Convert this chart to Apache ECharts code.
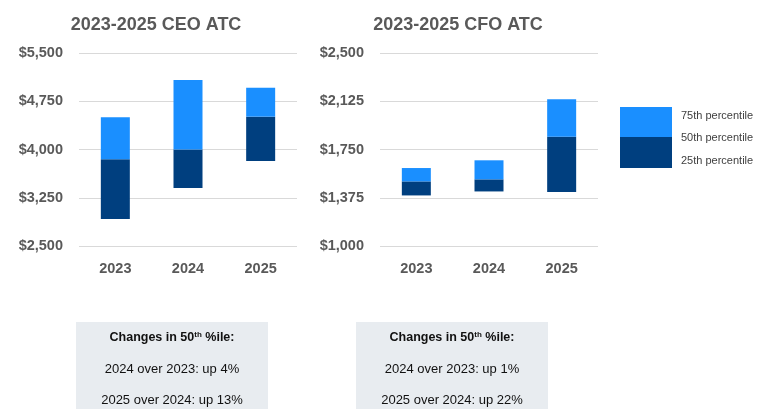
<!DOCTYPE html>
<html>
<head>
<meta charset="utf-8">
<script src="https://cdn.jsdelivr.net/npm/echarts@6/dist/echarts.min.js"></script>
<style>html,body{margin:0;padding:0;background:#fff}#c{width:779px;height:419px}</style>
</head>
<body>
<div id="c"></div>
<script>
var years = ['2023', '2024', '2025'];
var ceoP25 = [2920, 3400, 3820];
var ceoP50 = [3850, 4000, 4510];
var ceoP75 = [4500, 5080, 4960];
var cfoP25 = [1393, 1424, 1419];
var cfoP50 = [1502, 1518, 1850];
var cfoP75 = [1606, 1666, 2141];
var ceoTicks = [2500, 3250, 4000, 4750, 5500];
var cfoTicks = [1000, 1375, 1750, 2125, 2500];
var legendLabels = ['75th percentile', '50th percentile', '25th percentile'];
var ceoNotes = ['2024 over 2023: up 4%', '2025 over 2024: up 13%'];
var cfoNotes = ['2024 over 2023: up 1%', '2025 over 2024: up 22%'];

var LIGHT = '#1a8fff', DARK = '#003f7f', GRAY = '#595959';
function diff(a, b) { return a.map(function (v, i) { return v - b[i]; }); }
function money(v) { return '$' + v.toLocaleString('en-US'); }

function yAxis(idx, ticks) {
  return {
    type: 'value', gridIndex: idx, min: ticks[0], max: ticks[ticks.length - 1],
    interval: ticks[1] - ticks[0],
    axisLine: { show: false }, axisTick: { show: false },
    splitLine: { lineStyle: { color: '#d9d9d9', width: 1 } },
    axisLabel: { formatter: money, color: GRAY, fontWeight: 'bold', fontSize: 14.5, fontFamily: 'Liberation Sans', margin: 16 }
  };
}
function xAxis(idx) {
  return {
    type: 'category', gridIndex: idx, data: years,
    axisLine: { show: false }, axisTick: { show: false },
    axisLabel: { color: GRAY, fontWeight: 'bold', fontSize: 14.5, fontFamily: 'Liberation Sans', margin: 15 }
  };
}
function bars(idx, p25, p50, p75) {
  var st = 's' + idx;
  var common = { type: 'bar', xAxisIndex: idx, yAxisIndex: idx, stack: st, barWidth: 29, silent: true };
  return [
    Object.assign({}, common, { data: p25, itemStyle: { color: 'transparent' } }),
    Object.assign({}, common, { data: diff(p50, p25), itemStyle: { color: DARK } }),
    Object.assign({}, common, { data: diff(p75, p50), itemStyle: { color: LIGHT } })
  ];
}
function noteBox(x, notes) {
  return {
    type: 'group', left: x, top: 322,
    children: [
      { type: 'rect', shape: { x: 0, y: 0, width: 192, height: 87 }, style: { fill: '#e8ecf0' } },
      { type: 'text', x: 96, y: 16, style: { text: '{b|Changes in 50}{s|th}{b| %ile:}', align: 'center', verticalAlign: 'middle',
          rich: { b: { fontSize: 12.5, fontWeight: 'bold', fontFamily: 'Liberation Sans', fill: '#111' },
                  s: { fontSize: 8, fontWeight: 'bold', fontFamily: 'Liberation Sans', fill: '#111', verticalAlign: 'top', padding: [0, 0, 6, 0] } } } },
      { type: 'text', x: 96, y: 47, style: { text: notes[0], align: 'center', verticalAlign: 'middle', fontSize: 13, fontFamily: 'Liberation Sans', fill: '#111' } },
      { type: 'text', x: 96, y: 78, style: { text: notes[1], align: 'center', verticalAlign: 'middle', fontSize: 13, fontFamily: 'Liberation Sans', fill: '#111' } }
    ]
  };
}
function legendText(y, t) {
  return { type: 'text', x: 681, y: y, style: { text: t, verticalAlign: 'middle', fontSize: 11, fontFamily: 'Liberation Sans', fill: '#404040' } };
}

var chart = echarts.init(document.getElementById('c'));
chart.setOption({
  animation: false,
  title: [
    { text: '2023-2025 CEO ATC', left: 151, top: 11, textAlign: 'center', textStyle: { color: GRAY, fontSize: 18, fontWeight: 'bold', fontFamily: 'Liberation Sans' } },
    { text: '2023-2025 CFO ATC', left: 453, top: 11, textAlign: 'center', textStyle: { color: GRAY, fontSize: 18, fontWeight: 'bold', fontFamily: 'Liberation Sans' } }
  ],
  grid: [
    { left: 79, top: 53, width: 218, height: 193 },
    { left: 380, top: 53, width: 218, height: 193 }
  ],
  xAxis: [xAxis(0), xAxis(1)],
  yAxis: [yAxis(0, ceoTicks), yAxis(1, cfoTicks)],
  series: bars(0, ceoP25, ceoP50, ceoP75).concat(bars(1, cfoP25, cfoP50, cfoP75)),
  graphic: [
    { type: 'rect', left: 620, top: 107, shape: { width: 52, height: 30 }, style: { fill: LIGHT } },
    { type: 'rect', left: 620, top: 137, shape: { width: 52, height: 31 }, style: { fill: DARK } },
    legendText(116, legendLabels[0]),
    legendText(138, legendLabels[1]),
    legendText(161, legendLabels[2]),
    noteBox(76, ceoNotes),
    noteBox(356, cfoNotes)
  ]
});
</script>
</body>
</html>
